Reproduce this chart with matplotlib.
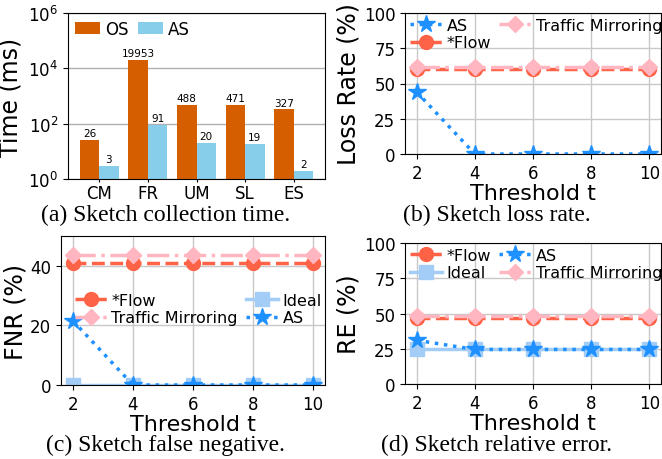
import numpy as np
import matplotlib.pyplot as plt
from matplotlib.ticker import NullLocator

# (a) sketch collection time (ms)
sketches = ['CM', 'FR', 'UM', 'SL', 'ES']
os_time = [26, 19953, 488, 471, 327]
as_time = [3, 91, 20, 19, 2]

# (b)-(d) vs threshold t
thresholds = [2, 4, 6, 8, 10]
loss_as = [44, 0, 0, 0, 0]
loss_flow = [60, 60, 60, 60, 60]
loss_tm = [62, 62, 62, 62, 62]

fnr_flow = [41, 41, 41, 41, 41]
fnr_tm = [43.5, 43.5, 43.5, 43.5, 43.5]
fnr_ideal = [0, 0, 0, 0, 0]
fnr_as = [21.5, 0, 0, 0, 0]

re_flow = [46.5, 46.5, 46.5, 46.5, 46.5]
re_ideal = [24.5, 24.5, 24.5, 24.5, 24.5]
re_as = [31, 24.5, 24.5, 24.5, 24.5]
re_tm = [48.5, 48.5, 48.5, 48.5, 48.5]

plt.rcParams['font.family'] = 'DejaVu Sans'

# line styles per method
styles = {
    '*Flow': dict(color='#ff6347', ls='--', marker='o', ms=10, lw=2.5),
    'Traffic Mirroring': dict(color='#ffb6c1', ls='-.', marker='D', ms=8.5, lw=2.5),
    'AS': dict(color='#1e90ff', ls=':', marker='*', ms=13, lw=2.5),
    'Ideal': dict(color='#a3cdf6', ls='-', marker='s', ms=10, lw=2.5),
}

fig = plt.figure(figsize=(6.62, 4.60), dpi=100)

ax_a = fig.add_axes([68/662, 1-180/460, 257/662, 166/460])
ax_b = fig.add_axes([405/662, 1-155/460, 256/662, 141/460])
ax_c = fig.add_axes([61/662, 1-386/460, 264/662, 149/460])
ax_d = fig.add_axes([405/662, 1-385/460, 256/662, 141/460])

# ---- (a) bars
x = np.arange(len(sketches))
w = 0.4
b1 = ax_a.bar(x - w/2, os_time, w, color='#d55e00', label='OS')
b2 = ax_a.bar(x + w/2, as_time, w, color='#87ceeb', label='AS')
ax_a.set_yscale('log')
ax_a.set_ylim(1, 1e6)
ax_a.set_yticks([1, 1e2, 1e4, 1e6])
ax_a.yaxis.set_minor_locator(NullLocator())
ax_a.set_xticks(x)
ax_a.set_xticklabels(sketches)
ax_a.tick_params(labelsize=12)
ax_a.tick_params(axis='x', length=2.5, pad=1)
ax_a.yaxis.grid(True, color='#b0b0b0', lw=1)
ax_a.set_axisbelow(True)
for bars, vals in [(b1, os_time), (b2, as_time)]:
    for r, v in zip(bars, vals):
        ax_a.text(r.get_x() + r.get_width()/2, v*1.15, str(v),
                  ha='center', va='bottom', fontsize=7.5)
ax_a.set_ylabel('Time (ms)', fontsize=17)
ax_a.legend(loc='upper left', ncol=2, frameon=False, fontsize=12,
            handlelength=1.5, handletextpad=0.3, columnspacing=0.6,
            borderaxespad=0.2, borderpad=0.2)


def line_panel(ax, series, order, ylim, yticks, ylabel):
    for name, vals in series:
        ax.plot(thresholds, vals, label=name, **styles[name])
    ax.set_ylim(*ylim)
    ax.set_yticks(yticks)
    ax.set_xticks(thresholds)
    ax.tick_params(labelsize=12)
    ax.grid(True, color='#c8c8c8', lw=1)
    ax.set_axisbelow(True)
    ax.set_xlabel('Threshold t', fontsize=16, labelpad=1)
    ax.set_ylabel(ylabel, fontsize=17, labelpad=2)
    h, l = ax.get_legend_handles_labels()
    idx = [l.index(o) for o in order]
    return [h[i] for i in idx], [l[i] for i in idx]


leg_kw = dict(ncol=2, frameon=False, fontsize=11.5, handlelength=2.0,
              handletextpad=0.3, columnspacing=0.5, labelspacing=0.15,
              borderpad=0.2)

# ---- (b) loss rate
h, l = line_panel(ax_b, [('AS', loss_as), ('*Flow', loss_flow), ('Traffic Mirroring', loss_tm)],
                  ['AS', '*Flow', 'Traffic Mirroring'], (0, 100), [0, 25, 50, 75, 100],
                  'Loss Rate (%)')
ax_b.legend(h, l, loc='upper left', borderaxespad=0.1, **leg_kw)

# ---- (c) FNR
h, l = line_panel(ax_c, [('*Flow', fnr_flow), ('Traffic Mirroring', fnr_tm),
                         ('Ideal', fnr_ideal), ('AS', fnr_as)],
                  ['*Flow', 'Traffic Mirroring', 'Ideal', 'AS'], (0, 50), [0, 20, 40],
                  'FNR (%)')
ax_c.legend(h, l, loc='center right', bbox_to_anchor=(1.0, 0.51), borderaxespad=0, **leg_kw)

# ---- (d) RE
h, l = line_panel(ax_d, [('*Flow', re_flow), ('Ideal', re_ideal), ('AS', re_as),
                         ('Traffic Mirroring', re_tm)],
                  ['*Flow', 'Ideal', 'AS', 'Traffic Mirroring'], (0, 100), [0, 25, 50, 75, 100],
                  'RE (%)')
ax_d.legend(h, l, loc='upper left', borderaxespad=0.1, **leg_kw)

# captions
cap = dict(ha='center', va='baseline', fontsize=17, family='Liberation Serif')
fig.text(165.5/662, 1-221/460, '(a) Sketch collection time.', **cap)
fig.text(496.5/662, 1-221/460, '(b) Sketch loss rate.', **cap)
fig.text(165.5/662, 1-451/460, '(c) Sketch false negative.', **cap)
fig.text(496.5/662, 1-451/460, '(d) Sketch relative error.', **cap)

fig.savefig('out.png', dpi=100)
